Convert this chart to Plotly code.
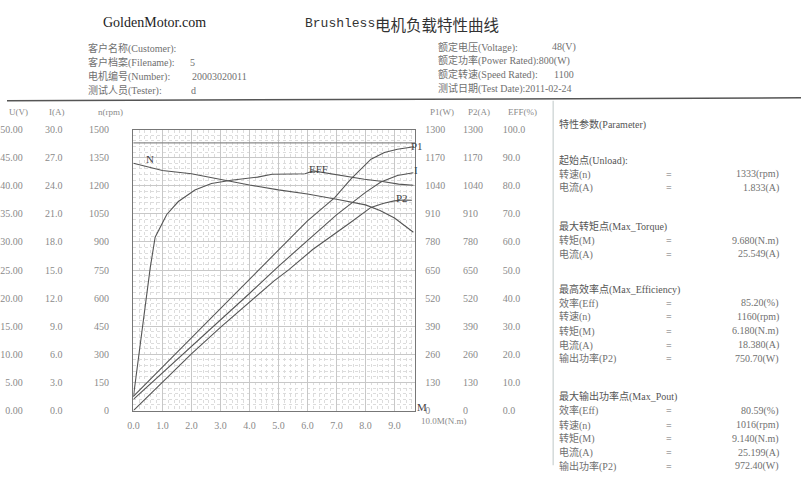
import plotly.graph_objects as go

# ---------------- data ----------------
torque_n = [0, 1.0, 2.0, 3.0, 4.0, 5.0, 6.0, 7.0, 7.5, 8.0, 8.5, 9.0, 9.65]
speed_rpm = [1320, 1282, 1264, 1232, 1204, 1178, 1156, 1128, 1112, 1098, 1068, 1028, 952]

torque_eff = [0, 0.58, 0.75, 1.0, 1.15, 1.55, 2.12, 2.69, 3.37, 4.28, 4.78, 5.5, 5.92, 6.2, 6.6, 7.05, 7.6, 7.96, 8.53, 9.14, 9.65]
eff_pct = [4.8, 50.8, 61.7, 66.5, 69.8, 74.4, 78.5, 80.8, 82.0, 83.1, 84.1, 84.2, 84.3, 85.3, 84.6, 83.7, 82.8, 82.3, 81.6, 80.6, 80.2]

torque_p1 = [0, 1, 2, 3, 4, 5, 6, 6.94, 7.51, 8.19, 8.65, 9.1, 9.67]
p1_w = [65, 200, 336, 472, 607, 743, 878, 985, 1073, 1163, 1194, 1209, 1221]

torque_i = [0, 1, 2, 3, 4, 5, 6, 7.0, 7.5, 8.0, 8.53, 9.1, 9.65]
current_a = [1.2, 4.0, 6.9, 9.7, 12.5, 15.4, 18.2, 20.9, 22.1, 23.3, 24.4, 25.1, 25.4]

torque_p2 = [0, 1, 2, 3, 4, 4.85, 5.35, 6.18, 7.4, 8.19, 8.6, 8.99, 9.3, 9.6]
p2_w = [0, 132, 262, 385, 500, 600, 651, 745, 862, 940, 958, 970, 974, 973]

u_ticks = [0, 5, 10, 15, 20, 25, 30, 35, 40, 45, 50]
i_ticks = [0, 3, 6, 9, 12, 15, 18, 21, 24, 27, 30]
n_ticks = [0, 150, 300, 450, 600, 750, 900, 1050, 1200, 1350, 1500]
p_ticks = [0, 130, 260, 390, 520, 650, 780, 910, 1040, 1170, 1300]
e_ticks = [0, 10, 20, 30, 40, 50, 60, 70, 80, 90, 100]

params = [
    ("head", "特性参数(Parameter)", None, 121),
    ("head", "起始点(Unload):", None, 158),
    ("row", "转速(n)", "1333(rpm)", 172),
    ("row", "电流(A)", "1.833(A)", 186),
    ("head", "最大转矩点(Max_Torque)", None, 226),
    ("row", "转矩(M)", "9.680(N.m)", 240),
    ("row", "电流(A)", "25.549(A)", 254),
    ("head", "最高效率点(Max_Efficiency)", None, 290),
    ("row", "效率(Eff)", "85.20(%)", 304),
    ("row", "转速(n)", "1160(rpm)", 318),
    ("row", "转矩(M)", "6.180(N.m)", 333),
    ("row", "电流(A)", "18.380(A)", 347),
    ("row", "输出功率(P2)", "750.70(W)", 361),
    ("head", "最大输出功率点(Max_Pout)", None, 400),
    ("row", "效率(Eff)", "80.59(%)", 414),
    ("row", "转速(n)", "1016(rpm)", 429),
    ("row", "转矩(M)", "9.140(N.m)", 443),
    ("row", "电流(A)", "25.199(A)", 457),
    ("row", "输出功率(P2)", "972.40(W)", 471),
]

# ---------------- layout helpers ----------------
W, H = 801, 481
def px(x):
    return x / W
def py(y):
    return 1 - y / H

SERIF = "Liberation Serif, Noto Sans CJK SC"
CJK = "Noto Sans CJK SC"
TXT = "#707070"
CURVE = "#555555"
TICKF = dict(family="Liberation Serif", size=10, color="#8a8a8a")

ydom = [py(414), py(126.5)]
xdom = [px(127.5), px(412)]

fig = go.Figure()
line = dict(color=CURVE, width=1.1)
fig.add_trace(go.Scatter(x=torque_n, y=speed_rpm, xaxis="x", yaxis="y3", mode="lines", line=line, name="N"))
fig.add_trace(go.Scatter(x=torque_eff, y=eff_pct, xaxis="x", yaxis="y6", mode="lines", line=line, name="EFF"))
fig.add_trace(go.Scatter(x=torque_p1, y=p1_w, xaxis="x", yaxis="y4", mode="lines", line=line, name="P1"))
fig.add_trace(go.Scatter(x=torque_i, y=current_a, xaxis="x", yaxis="y2", mode="lines", line=line, name="I"))
fig.add_trace(go.Scatter(x=torque_p2, y=p2_w, xaxis="x", yaxis="y5", mode="lines", line=line, name="P2"))
# carrier on the base voltage axis (no visible mark)
fig.add_trace(go.Scatter(x=[0], y=[0], xaxis="x", yaxis="y", mode="markers",
                         marker=dict(size=1, opacity=0), hoverinfo="skip"))


def yax(rng, ticks, fmt, pos, side="left"):
    return dict(range=rng, domain=ydom, anchor="free", position=pos, side=side,
                overlaying="y", tickmode="array",
                tickvals=ticks, ticktext=[fmt % v for v in ticks], ticks="",
                tickfont=TICKF, showline=False, zeroline=False, showgrid=False)

fig.update_layout(
    width=W, height=H, margin=dict(l=0, r=0, t=0, b=0),
    paper_bgcolor="white", plot_bgcolor="white", showlegend=False,
    xaxis=dict(domain=xdom, range=[0, 9.72], anchor="y", tickmode="linear",
               tick0=0, dtick=1, tickformat=".1f", ticks="", ticklabelstandoff=5,
               tickfont=TICKF, showline=True, mirror=True, linecolor="#777",
               zeroline=False, showgrid=True, gridcolor="#c8c8c8",
               minor=dict(dtick=0.2, tick0=0, showgrid=True, gridcolor="#dcdcdc",
                          griddash="dot")),
    yaxis=dict(domain=ydom, range=[0, 50], anchor="x", side="left",
               tickmode="linear", tick0=0, dtick=5, ticks="",
               tickfont=TICKF, showticklabels=False, showline=True,
               mirror=True, linecolor="#777", zeroline=False, showgrid=True,
               gridcolor="#c8c8c8",
               minor=dict(dtick=1, tick0=0, showgrid=True, gridcolor="#dcdcdc",
                          griddash="dot")),
    yaxis2=yax([0, 30], i_ticks, "%.1f", px(56)),
    yaxis3=yax([0, 1500], n_ticks, "%d", px(103)),
    yaxis4=yax([0, 1300], p_ticks, "%d", px(421), side="right"),
    yaxis5=yax([0, 1300], p_ticks, "%d", px(459), side="right"),
    yaxis6=yax([0, 100], e_ticks, "%.1f", px(499), side="right"),
    yaxis7=yax([0, 50], u_ticks, "%.2f", px(16)),
)
fig.add_trace(go.Scatter(x=[0], y=[0], xaxis="x", yaxis="y7", mode="markers",
                         marker=dict(size=1, opacity=0), hoverinfo="skip"))

shapes = [
    dict(type="line", xref="paper", yref="paper", x0=0, x1=1, y0=py(97), y1=py(94),
         line=dict(color="#555", width=1.5)),
    dict(type="line", xref="paper", yref="paper", x0=px(551), x1=px(551), y0=py(97), y1=py(470),
         line=dict(color="#d4dada", width=1.5)),
    dict(type="line", xref="x domain", yref="paper", x0=0, x1=1, y0=py(140), y1=py(140),
         line=dict(color="#8a8a8a", width=1.2)),
]
fig.update_layout(shapes=shapes)

ann = []
def T(text, x, y, size=10, color=TXT, family=SERIF, xanchor="left"):
    ann.append(dict(text=text, x=px(x), y=py(y), xref="paper", yref="paper",
                    showarrow=False, xanchor=xanchor, yanchor="middle",
                    font=dict(size=size, color=color, family=family)))

# header
T("GoldenMotor.com", 95, 17, size=14, color="#222", family="Liberation Serif")
T("Brushless", 299, 18, size=13, color="#333", family="Liberation Mono")
T("电机负载特性曲线", 369, 18, size=15.5, color="#333", family=CJK)

T("客户名称(Customer):", 80, 44)
T("客户档案(Filename):", 80, 58)
T("5", 183, 58)
T("电机编号(Number):", 80, 72)
T("20003020011", 185, 72)
T("测试人员(Tester):", 80, 86)
T("d", 184, 86)

T("额定电压(Voltage):", 433, 42)
T("48(V)", 548, 42)
T("额定功率(Power Rated):800(W)", 433, 56)
T("额定转速(Speed Rated):", 433, 70)
T("1100", 550, 70)
T("测试日期(Test Date):2011-02-24", 433, 84)

# axis column titles
T("U(V)", 0, 108, size=9, color="#8a8a8a")
T("I(A)", 40, 108, size=9, color="#8a8a8a")
T("n(rpm)", 90, 108, size=9, color="#8a8a8a")
T("P1(W)", 425, 108, size=9, color="#8a8a8a")
T("P2(A)", 463, 108, size=9, color="#8a8a8a")
T("EFF(%)", 503, 108, size=9, color="#8a8a8a")
T("10.0M(N.m)", 416, 425, size=9, color="#8a8a8a", family="Liberation Serif")

# curve labels
T("N", 138, 157, size=11, color="#444", family="Liberation Serif")
T("EFF", 303, 167, size=11, color="#444", family="Liberation Serif")
T("P1", 406, 143, size=11, color="#444", family="Liberation Serif")
T("I", 409, 168, size=11, color="#444", family="Liberation Serif")
T("P2", 390, 197, size=11, color="#444", family="Liberation Serif")
T("M", 412, 410, size=11, color="#444", family="Liberation Serif")

# parameter panel
for kind, label, val, y in params:
    if kind == "head":
        T(label, 555, y, size=10, color="#555")
    else:
        T(label, 555, y, size=10, color=TXT)
        T("=", 668, y, size=10, color=TXT, xanchor="center")
        T(val, 781, y, size=10, color=TXT, xanchor="right")

fig.update_layout(annotations=ann)
fig.write_html("out.html")
